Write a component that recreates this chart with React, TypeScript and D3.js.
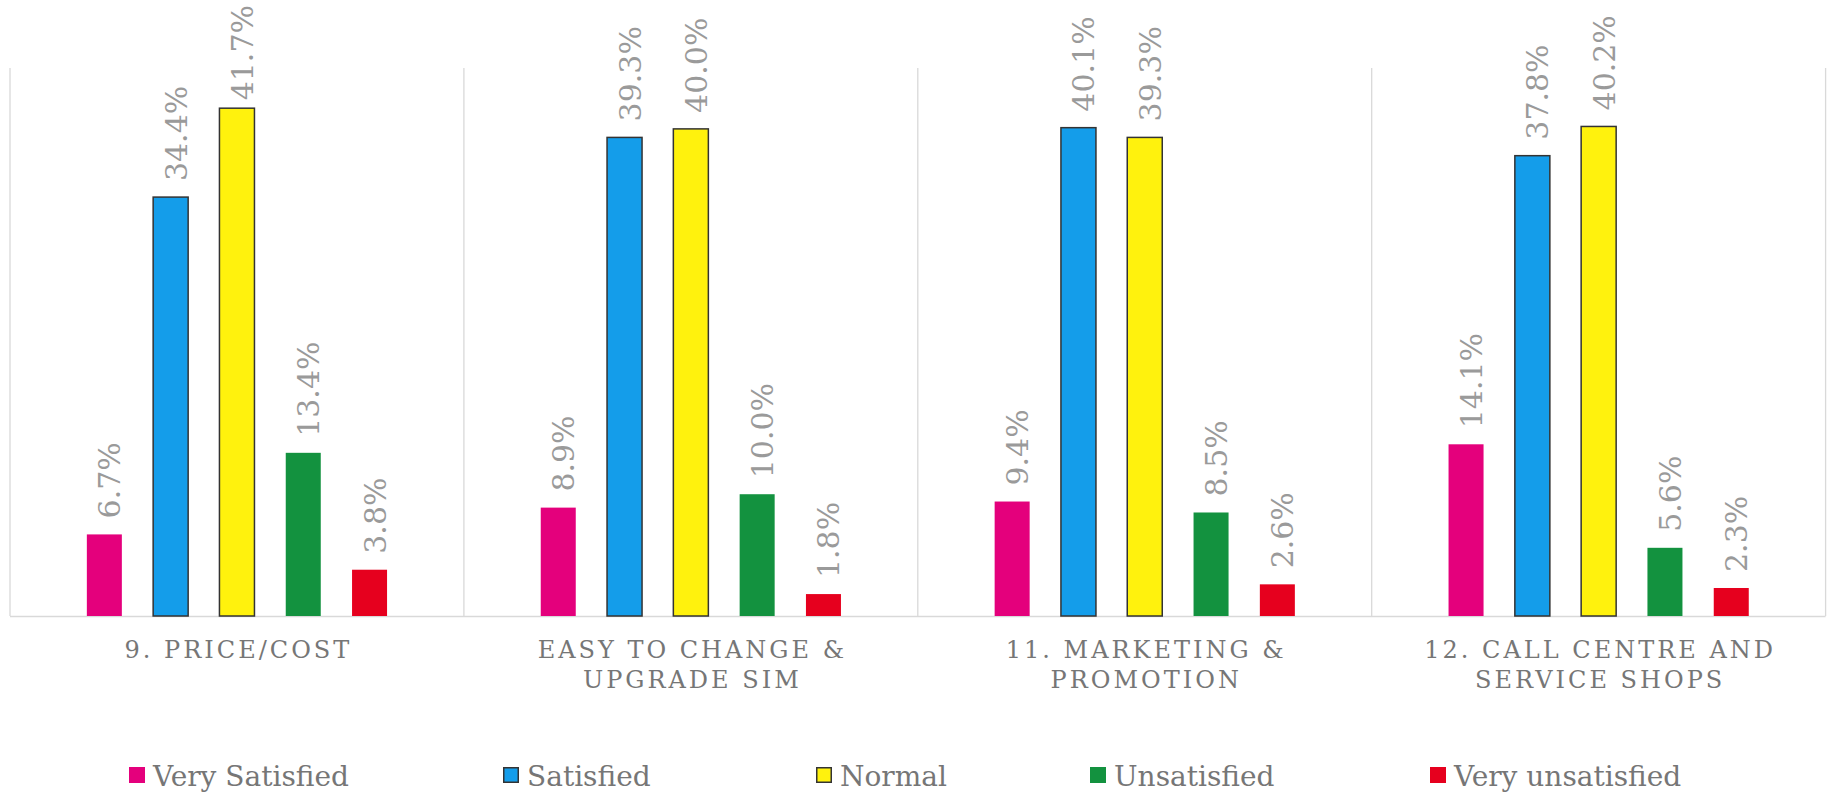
import React, { useMemo } from "react";
import * as d3 from "d3";

// Survey results: share of respondents (%) per satisfaction level
const categoryLines: string[][] = [
  ["9. PRICE/COST"],
  ["EASY TO CHANGE &", "UPGRADE SIM"],
  ["11. MARKETING &", "PROMOTION"],
  ["12. CALL CENTRE AND", "SERVICE SHOPS"],
];
const categories = categoryLines.map((l) => l.join(" "));

const seriesNames = ["Very Satisfied", "Satisfied", "Normal", "Unsatisfied", "Very unsatisfied"];
const verySatisfied = [6.7, 8.9, 9.4, 14.1];
const satisfied = [34.4, 39.3, 40.1, 37.8];
const normal = [41.7, 40.0, 39.3, 40.2];
const unsatisfied = [13.4, 10.0, 8.5, 5.6];
const veryUnsatisfied = [3.8, 1.8, 2.6, 2.3];
const seriesValues = [verySatisfied, satisfied, normal, unsatisfied, veryUnsatisfied];

const seriesColors = ["#e4007c", "#149dea", "#fff20d", "#13923f", "#e6001e"];
const seriesOutlined = [false, true, true, false, false];

const W = 1834;
const H = 793;
const plotLeft = 10;
const plotRight = 1825.6;
const plotTop = 68;
const baseY = 616;
const yMax = 45;

const serif = '"DejaVu Serif", "Liberation Serif", serif';
const labelFontSize = 30;
const labelColor = "#9a9a9a";
const textColor = "#767676";

const legendX = [129, 503, 816, 1090, 1430];

function measure(text: string, font: string): number {
  if (typeof document === "undefined") return text.length * 18;
  const c = document.createElement("canvas");
  const ctx = c.getContext("2d");
  if (!ctx) return text.length * 18;
  ctx.font = font;
  return ctx.measureText(text).width;
}

export default function App() {
  const x0 = d3.scaleBand<string>().domain(categories).range([plotLeft, plotRight]).padding(0);
  const x1 = d3
    .scaleBand<string>()
    .domain(seriesNames)
    .range([0, x0.bandwidth()])
    .paddingInner(0.472)
    .paddingOuter(1.159);
  const y = d3.scaleLinear().domain([0, yMax]).range([baseY, plotTop]);
  const fmt = (v: number) => d3.format(".1f")(v) + "%";

  const labelFont = `${labelFontSize}px ${serif}`;
  const dividers = [...categories.map((c) => x0(c) as number), plotRight];

  const bars = useMemo(() => {
    const out: any[] = [];
    categories.forEach((cat, ci) => {
      seriesNames.forEach((s, si) => {
        const v = seriesValues[si][ci];
        const bx = (x0(cat) as number) + (x1(s) as number);
        const bw = x1.bandwidth();
        const top = y(v);
        const text = fmt(v);
        const len = measure(text, labelFont);
        let start = top - 16;
        if (start - len < 5) start = 5 + len;
        out.push({ key: `${ci}-${si}`, bx, bw, top, v, si, text, start, cx: bx + bw / 2 });
      });
    });
    return out;
  }, []);

  return (
    <div style={{ position: "absolute", left: 0, top: 0 }}>
      <svg width={W} height={H} viewBox={`0 0 ${W} ${H}`} style={{ display: "block", background: "#fff", fontFamily: serif }}>
        {/* category separators */}
        {dividers.map((dx, i) => (
          <line key={`d${i}`} x1={dx} x2={dx} y1={plotTop} y2={baseY} stroke="#d9d9d9" strokeWidth={1.3} />
        ))}
        <line x1={plotLeft} x2={plotRight} y1={baseY + 0.5} y2={baseY + 0.5} stroke="#d9d9d9" strokeWidth={1.3} />

        {/* bars */}
        {bars.map((b) => (
          <rect
            key={`r${b.key}`}
            x={b.bx}
            y={b.top}
            width={b.bw}
            height={baseY - b.top}
            fill={seriesColors[b.si]}
            stroke={seriesOutlined[b.si] ? "#333333" : "none"}
            strokeWidth={seriesOutlined[b.si] ? 1.5 : 0}
          />
        ))}

        {/* value labels */}
        {bars.map((b) => (
          <text
            key={`t${b.key}`}
            transform={`translate(${b.cx + 16},${b.start}) rotate(-90)`}
            style={{ fontFamily: serif, fontSize: labelFontSize }}
            fill={labelColor}
          >
            {b.text}
          </text>
        ))}

        {/* category labels */}
        {categoryLines.map((lines, ci) => {
          const cx = (x0(categories[ci]) as number) + x0.bandwidth() / 2;
          return (
            <text
              key={`c${ci}`}
              style={{ fontFamily: serif, fontSize: 24, letterSpacing: 3 }}
              fill={textColor}
              textAnchor="middle"
            >
              {lines.map((ln, li) => (
                <tspan key={li} x={cx + 1.5} y={658 + li * 30}>
                  {ln}
                </tspan>
              ))}
            </text>
          );
        })}

        {/* legend */}
        {seriesNames.map((s, si) => (
          <g key={`l${si}`} transform={`translate(${legendX[si]},767)`}>
            <rect
              x={seriesOutlined[si] ? 0.75 : 0}
              y={seriesOutlined[si] ? 0.75 : 0}
              width={seriesOutlined[si] ? 14.5 : 16}
              height={seriesOutlined[si] ? 14.5 : 16}
              fill={seriesColors[si]}
              stroke={seriesOutlined[si] ? "#333333" : "none"}
              strokeWidth={1.5}
            />
            <text x={24} y={19} style={{ fontFamily: serif, fontSize: 28 }} fill={textColor}>
              {s}
            </text>
          </g>
        ))}
      </svg>
    </div>
  );
}
